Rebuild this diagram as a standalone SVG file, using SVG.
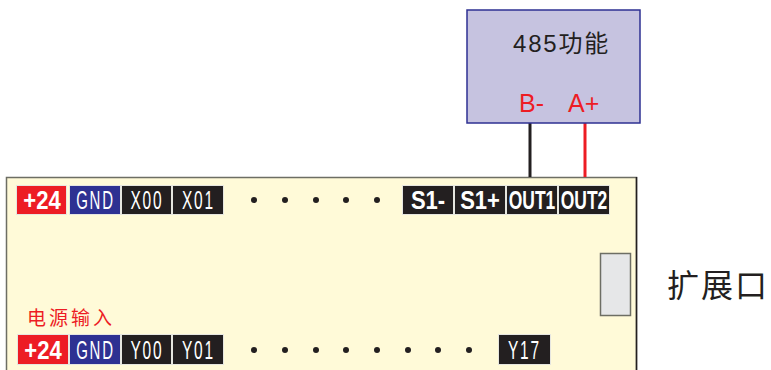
<svg xmlns="http://www.w3.org/2000/svg" width="771" height="370" viewBox="0 0 771 370">
<style>
.t{stroke:#e6e6e0;stroke-width:1}
.k{fill:#231f20}.r{fill:#ed1c24}.b{fill:#2e3192}
.l{font-family:"Liberation Sans",Arial,sans-serif;fill:#fff;text-anchor:middle}
.n{font-size:25px;letter-spacing:3px}.h{font-size:26px;font-weight:bold}.s{font-size:25px;font-weight:bold}.o{font-size:25px;font-weight:bold}
.d{fill:#231f20}
.c{font-family:"Liberation Sans","Noto Sans CJK SC",sans-serif}
</style>
<g id="board"><rect x="6.5" y="177.5" width="630" height="200" fill="#fffad8" stroke="#6d6e64" stroke-width="1.5"/>
<path d="M636.5 177V370" stroke="#231f20" stroke-width="1.5" fill="none"/></g>
<g id="connectors" fill="none" stroke-width="3">
<path d="M530 123V177" stroke="#231f20"/>
<path d="M585 123V177" stroke="#ed1c24"/>
</g>
<g id="module485">
<rect x="467" y="10" width="173" height="113" fill="#c6c3e0" stroke="#2e3192" stroke-width="1.5"/>
<text class="c" x="513" y="52" font-size="24" letter-spacing="1.8" fill="#231f20">485功能</text>
<text class="c" x="519" y="112" font-size="25" fill="#ed1c24">B-</text>
<text class="c" x="568" y="112" font-size="25" fill="#ed1c24">A+</text>
</g>
<g id="t-p24-top"><rect class="t r" x="16.5" y="185.5" width="50" height="29"/><text class="l h" transform="translate(42 209) scale(.85 1)">+24</text></g>
<g id="t-gnd-top"><rect class="t b" x="69.5" y="185.5" width="51" height="29"/><text class="l n" transform="translate(95.5 209) scale(.6 1)">GND</text></g>
<g id="t-x00"><rect class="t k" x="121.5" y="185.5" width="50" height="29"/><text class="l n" transform="translate(147 209) scale(.62 1)">X00</text></g>
<g id="t-x01"><rect class="t k" x="172.5" y="185.5" width="51" height="29"/><text class="l n" transform="translate(198.5 209) scale(.62 1)">X01</text></g>
<g id="t-s1m"><rect class="t k" x="402.5" y="185.5" width="51" height="29"/><text class="l s" transform="translate(428 209) scale(.88 1)">S1-</text></g>
<g id="t-s1p"><rect class="t k" x="454.5" y="185.5" width="51" height="29"/><text class="l s" transform="translate(480 209) scale(.88 1)">S1+</text></g>
<g id="t-out1"><rect class="t k" x="506.5" y="185.5" width="51" height="29"/><text class="l o" transform="translate(532 209) scale(.7 1)">OUT1</text></g>
<g id="t-out2"><rect class="t k" x="558.5" y="185.5" width="51" height="29"/><text class="l o" transform="translate(584 209) scale(.7 1)">OUT2</text></g>
<g id="dots-top" class="d">
<circle cx="254" cy="200" r="3"/><circle cx="285" cy="200" r="3"/><circle cx="316" cy="200" r="3"/><circle cx="346" cy="200" r="3"/><circle cx="377" cy="200" r="3"/>
</g>
<g id="slot"><rect x="600.5" y="253.5" width="30" height="62" fill="#e6e7e8" stroke="#6d6e64" stroke-width="1.5"/></g>
<g id="label-ext"><text x="667" y="297" font-size="32" letter-spacing="2" fill="#231f20" font-family="Liberation Serif,Noto Sans CJK SC,sans-serif">扩展口</text></g>
<g id="label-power"><text class="c" x="27" y="325" font-size="19" letter-spacing="3" fill="#ed1c24">电源输入</text></g>
<g id="t-p24-bot"><rect class="t r" x="17.5" y="334.5" width="51" height="30"/><text class="l h" transform="translate(43 358.500) scale(.85 1)">+24</text></g>
<g id="t-gnd-bot"><rect class="t b" x="69.5" y="334.5" width="51" height="30"/><text class="l n" transform="translate(95.5 358.500) scale(.6 1)">GND</text></g>
<g id="t-y00"><rect class="t k" x="121.5" y="334.5" width="50" height="30"/><text class="l n" transform="translate(147 358.500) scale(.62 1)">Y00</text></g>
<g id="t-y01"><rect class="t k" x="172.5" y="334.5" width="51" height="30"/><text class="l n" transform="translate(198.5 358.500) scale(.62 1)">Y01</text></g>
<g id="t-y17"><rect class="t k" x="498.5" y="334.5" width="52" height="30"/><text class="l n" transform="translate(524.5 358.500) scale(.62 1)">Y17</text></g>
<g id="dots-bot" class="d">
<circle cx="254" cy="350" r="3"/><circle cx="285" cy="350" r="3"/><circle cx="316" cy="350" r="3"/><circle cx="346" cy="350" r="3"/><circle cx="377" cy="350" r="3"/><circle cx="408" cy="350" r="3"/><circle cx="438" cy="350" r="3"/><circle cx="469" cy="350" r="3"/>
</g>
</svg>
